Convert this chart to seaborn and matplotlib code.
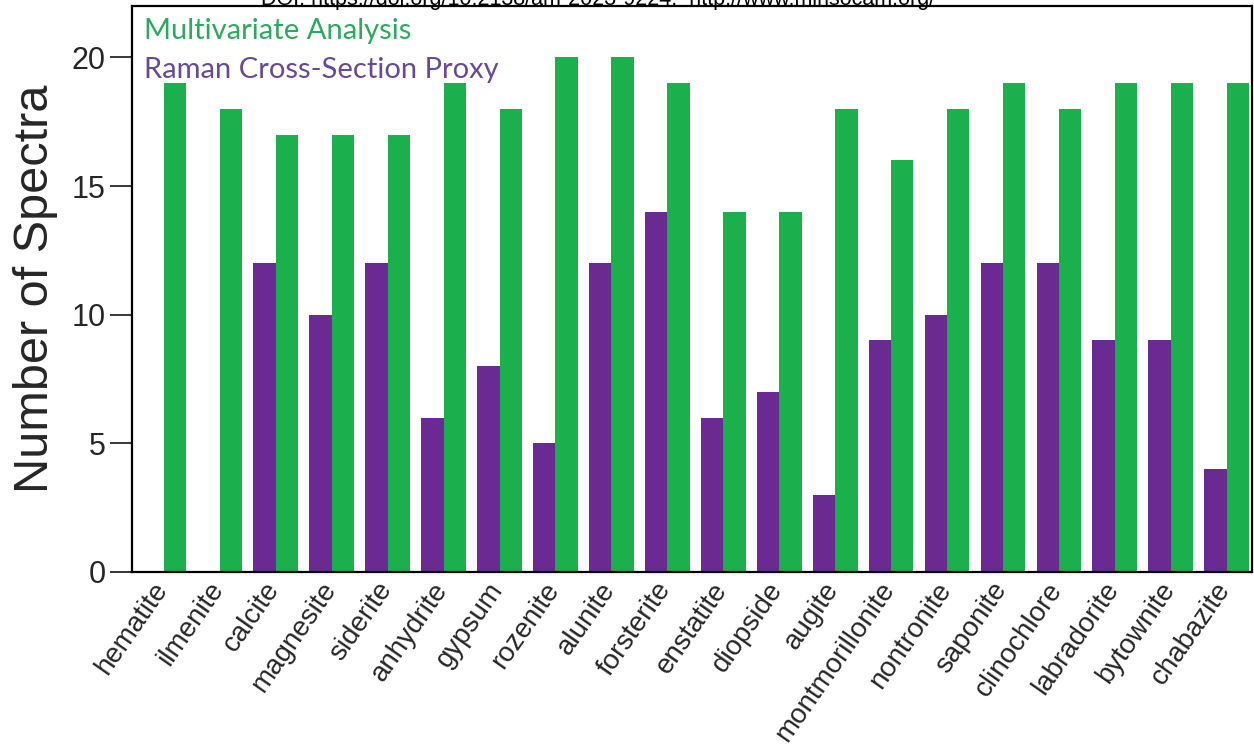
import pandas as pd
import matplotlib.pyplot as plt
import matplotlib.transforms as mtransforms
import seaborn as sns

# datos
minerals = ["hematite", "ilmenite", "calcite", "magnesite", "siderite", "anhydrite",
            "gypsum", "rozenite", "alunite", "forsterite", "enstatite", "diopside",
            "augite", "montmorillonite", "nontronite", "saponite", "clinochlore",
            "labradorite", "bytownite", "chabazite"]
multivariate = [19, 18, 17, 17, 17, 19, 18, 20, 20, 19, 14, 14, 18, 16, 18, 19, 18, 19, 19, 19]
raman_proxy = [0, 0, 12, 10, 12, 6, 8, 5, 12, 14, 6, 7, 3, 9, 10, 12, 12, 9, 9, 4]

LABEL_MV = "Multivariate Analysis"
LABEL_RAMAN = "Raman Cross-Section Proxy"
GREEN = "#1bb04d"
PURPLE = "#6a2a92"

df = pd.DataFrame({
    "mineral": minerals * 2,
    "method": [LABEL_RAMAN] * len(minerals) + [LABEL_MV] * len(minerals),
    "count": raman_proxy + multivariate,
})

sns.set_style("white")
plt.rcParams["font.family"] = ["Liberation Sans", "DejaVu Sans"]

fig = plt.figure(figsize=(12.54, 7.55), dpi=100)
ax = fig.add_axes([0.1053, 0.2424, 0.893, 0.7496])

sns.barplot(data=df, x="mineral", y="count", hue="method", order=minerals,
            hue_order=[LABEL_RAMAN, LABEL_MV], palette=[PURPLE, GREEN],
            width=0.8, saturation=1, linewidth=0, edgecolor="none", ax=ax)

ax.set_xlim(-0.57, 19.45)
ax.set_ylim(0, 22)
ax.set_yticks([0, 5, 10, 15, 20])
ax.tick_params(axis="y", labelsize=22, length=16, width=1.3, direction="out", left=True, pad=3)
ax.tick_params(axis="x", length=0, pad=4)
ax.set_xticks(range(len(minerals)))
ax.set_xticklabels(minerals, rotation=55, ha="right", rotation_mode="anchor", fontsize=20)
# correr las etiquetas un poco a la izquierda como en el original
shift = mtransforms.ScaledTranslation(-12 / 100, 0, fig.dpi_scale_trans)
for lbl in ax.get_xticklabels():
    lbl.set_transform(lbl.get_transform() + shift)
ax.set_xlabel("")
ax.set_ylabel("Number of Spectra", fontsize=35, labelpad=10)
for s in ax.spines.values():
    s.set_color("black")
    s.set_linewidth(1.6)

# leyenda solo con texto en color
h, l = ax.get_legend_handles_labels()
leg = ax.legend([h[1], h[0]], [l[1], l[0]], loc="upper left", bbox_to_anchor=(-0.004, 1.008),
                frameon=False, handlelength=0, handletextpad=0, borderaxespad=0.15,
                labelspacing=0.45, prop={"family": "Lato", "size": 21})
for handle in leg.legend_handles:
    handle.set_visible(False)
for txt, col in zip(leg.get_texts(), ["#2ea85e", "#684a94"]):
    txt.set_color(col)

# linea de DOI cortada en la parte superior
fig.text(0.477, 1.0, "DOI: https://doi.org/10.2138/am-2023-9224.  http://www.minsocam.org/",
         ha="center", va="center", fontsize=15.5, color="black")

fig.savefig("out.png", dpi=100)
plt.close(fig)
